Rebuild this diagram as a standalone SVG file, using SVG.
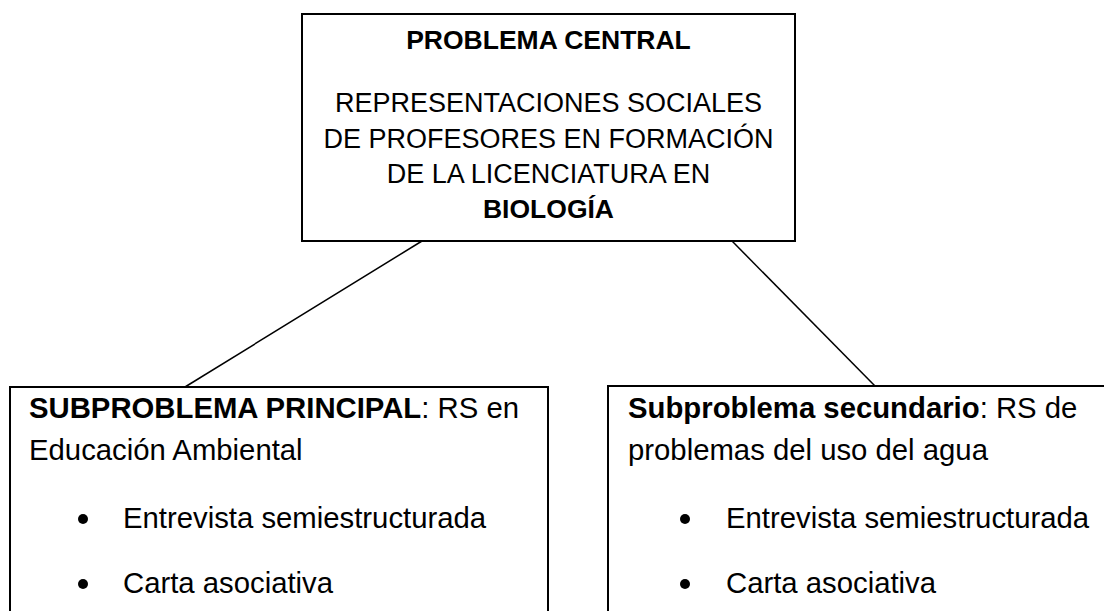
<svg xmlns="http://www.w3.org/2000/svg" width="1104" height="611" viewBox="0 0 1104 611">
<style>
.box{fill:#fff;stroke:#000;stroke-width:2}
.t{font-family:"Liberation Sans",Arial,sans-serif;fill:#000}
.top{font-size:27px;text-anchor:middle}
.sub{font-size:29.3px}
.b{font-weight:bold}
.hb{font-size:26.5px}
.conn{stroke:#000;stroke-width:1.5;fill:none}
</style>
<rect width="1104" height="611" fill="#fff"/>
<g id="connectors">
<line class="conn" x1="422" y1="241" x2="185" y2="387"/>
<line class="conn" x1="732" y1="241" x2="875" y2="386"/>
</g>
<g id="central">
<rect class="box" x="302" y="14" width="493" height="227"/>
<text class="t top b hb" x="548.5" y="49">PROBLEMA CENTRAL</text>
<text class="t top" x="548.5" y="112">REPRESENTACIONES SOCIALES</text>
<text class="t top" x="548.5" y="148">DE PROFESORES EN FORMACIÓN</text>
<text class="t top" x="548.5" y="183">DE LA LICENCIATURA EN</text>
<text class="t top b hb" x="548.5" y="218">BIOLOGÍA</text>
</g>
<g id="sub-principal">
<rect class="box" x="10" y="387" width="538" height="240"/>
<text class="t sub" x="29" y="418"><tspan class="b">SUBPROBLEMA PRINCIPAL</tspan>: RS en</text>
<text class="t sub" x="29" y="460">Educación Ambiental</text>
<circle cx="83" cy="519" r="5"/>
<text class="t sub" x="123" y="528">Entrevista semiestructurada</text>
<circle cx="83" cy="584" r="5"/>
<text class="t sub" x="123" y="593">Carta asociativa</text>
</g>
<g id="sub-secundario">
<rect class="box" x="608" y="386" width="510" height="240"/>
<text class="t sub" x="628" y="418"><tspan class="b">Subproblema secundario</tspan>: RS de</text>
<text class="t sub" x="628" y="460">problemas del uso del agua</text>
<circle cx="685" cy="519" r="5"/>
<text class="t sub" x="726" y="528">Entrevista semiestructurada</text>
<circle cx="685" cy="584" r="5"/>
<text class="t sub" x="726" y="593">Carta asociativa</text>
</g>
</svg>
